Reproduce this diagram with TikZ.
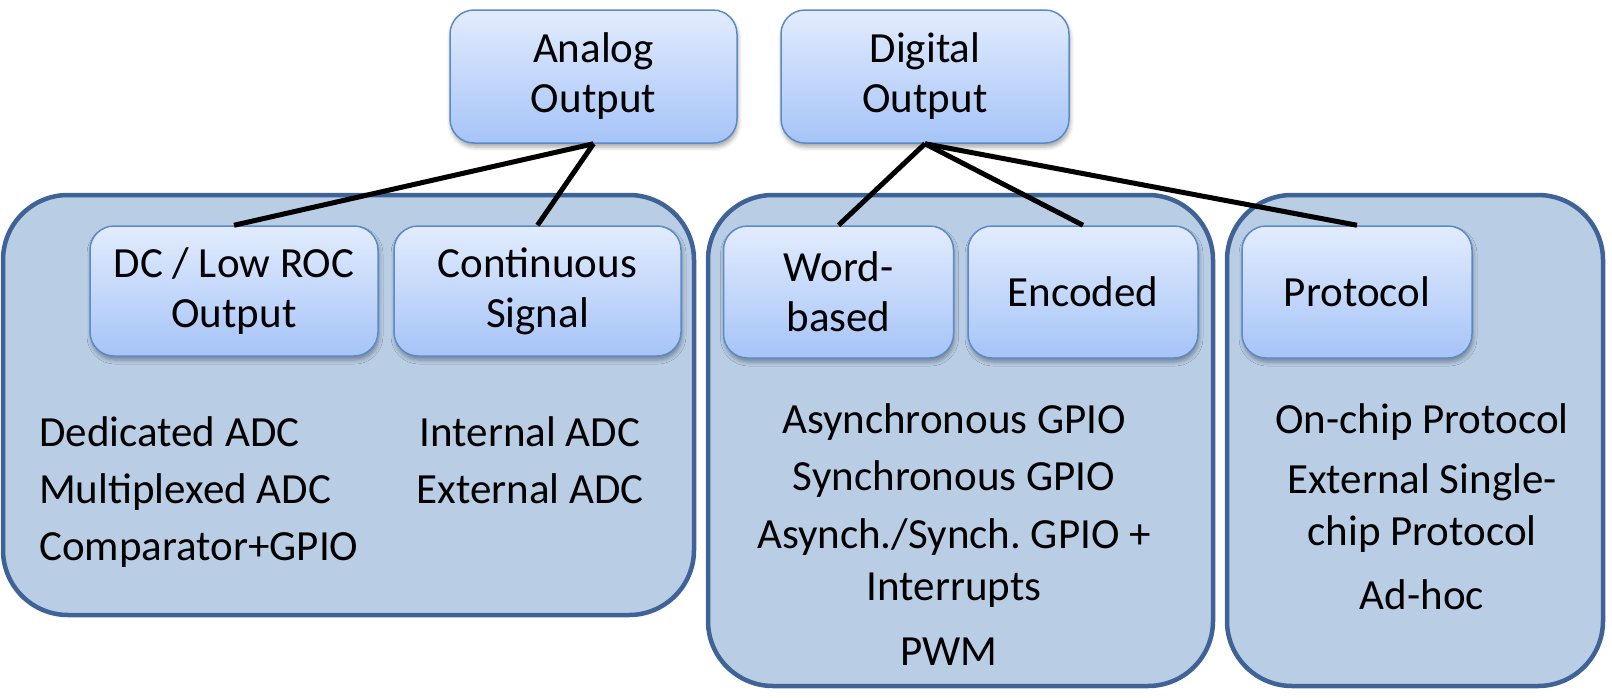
\documentclass[tikz,border=0pt]{standalone}
\usepackage{fontspec}
\setmainfont{Carlito}
\frenchspacing
\usetikzlibrary{shadows.blur}
\definecolor{contfill}{HTML}{B9CDE5}
\definecolor{contdraw}{HTML}{3F6396}
\definecolor{boxtop}{HTML}{E2ECFD}
\definecolor{boxbot}{HTML}{A6C4F8}
\definecolor{boxdraw}{HTML}{5C8AC6}
\tikzset{
  container/.style={fill=contfill, draw=contdraw, line width=4.5pt, rounded corners=65pt},
  catbox/.style={rectangle, rounded corners=24pt, top color=boxtop, bottom color=boxbot,
    draw=boxdraw, line width=1.5pt, align=center, inner sep=0pt,
    blur shadow={shadow xshift=1pt, shadow yshift=-4pt, shadow blur radius=4pt, shadow opacity=35},
    font=\fontsize{43}{50}\selectfont},
  item/.style={inner sep=0pt, font=\fontsize{43}{50}\selectfont},
  link/.style={line width=5pt, black}
}
\begin{document}
\begin{tikzpicture}[x=1pt,y=-1pt]
\useasboundingbox (0,0) rectangle (1612,697);
% containers
\draw[container] (3,195) rectangle (694,615);
\draw[container] (708,195) rectangle (1213,686);
\draw[container] (1227,195) rectangle (1603,686);
% category boxes
\node[catbox, minimum width=287pt, minimum height=133pt] (AO) at (593.5,76.5) {Analog\\Output};
\node[catbox, minimum width=288pt, minimum height=133pt] (DO) at (925,76.5) {Digital\\Output};
\node[catbox, minimum width=288pt, minimum height=130pt] (DC) at (234,291) {DC / Low ROC\\Output};
\node[catbox, minimum width=287pt, minimum height=130pt] (CS) at (537.5,291) {Continuous\\Signal};
\node[catbox, minimum width=230pt, minimum height=132pt] (WB) at (838.5,292) {Word-\\based};
\node[catbox, minimum width=230pt, minimum height=132pt] (EN) at (1083,292) {Encoded};
\node[catbox, minimum width=230pt, minimum height=132pt] (PR) at (1357,292) {Protocol};
% links
\draw[link] (AO.south) -- (DC.north);
\draw[link] (AO.south) -- (CS.north);
\draw[link] (DO.south) -- (WB.north);
\draw[link] (DO.south) -- (EN.north);
\draw[link] (DO.south) -- (PR.north);
% lists
\node[item, anchor=base west] (l1) at (39,446) {Dedicated ADC};
\node[item, anchor=base west] (l2) at (39,503) {Multiplexed ADC};
\node[item, anchor=base west] (l3) at (39,560) {Comparator+GPIO};
\node[item, anchor=base] (l4) at (530,446) {Internal ADC};
\node[item, anchor=base] (l5) at (530,503) {External ADC};
\node[item, anchor=base] (m1) at (954,433) {Asynchronous GPIO};
\node[item, anchor=base] (m2) at (954,490) {Synchronous GPIO};
\node[item, anchor=base] (m3) at (954,548) {Asynch./Synch.\ GPIO +};
\node[item, anchor=base] (m4) at (954,600) {Interrupts};
\node[item, anchor=base] (m5) at (949,665) {PWM};
\node[item, anchor=base] (r1) at (1422,433) {On-chip Protocol};
\node[item, anchor=base] (r2) at (1422,493) {External Single-};
\node[item, anchor=base] (r3) at (1422,545) {chip Protocol};
\node[item, anchor=base] (r4) at (1422,609) {Ad-hoc};
\end{tikzpicture}
\end{document}
